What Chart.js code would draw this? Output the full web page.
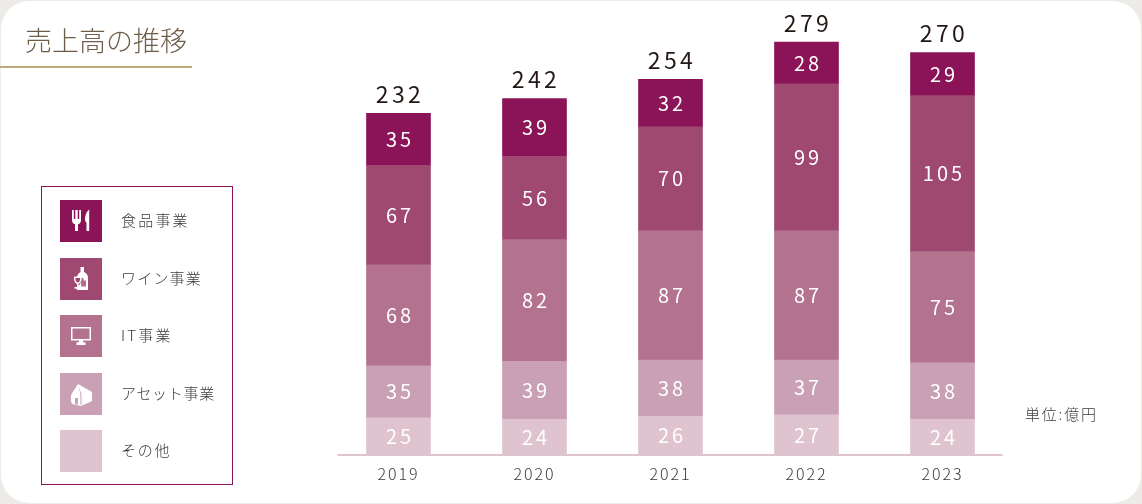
<!DOCTYPE html>
<html lang="ja">
<head>
<meta charset="utf-8">
<title>売上高の推移</title>
<script src="https://cdn.jsdelivr.net/npm/chart.js@4"></script>
<style>
html,body{margin:0;padding:0;width:1142px;height:504px;overflow:hidden;background:#ecebe7;}
body{position:relative;font-family:"Noto Sans CJK JP","Noto Sans",sans-serif;}
#card{position:absolute;left:1px;top:1px;width:1140px;height:502px;background:#fff;border-radius:28px;}
#chartBox{position:absolute;left:0;top:0;width:1142px;height:504px;}
#title{position:absolute;left:25px;top:20px;font-size:27px;line-height:40px;color:#6e5d48;font-weight:300;white-space:nowrap;}
#rule{position:absolute;left:0;top:66px;width:192px;height:2px;background:#bfa97a;}
#legend{position:absolute;left:41px;top:186px;width:190px;height:297px;border:1px solid #8b1458;}
.sw{position:absolute;left:18px;width:42px;height:42px;}
.sw svg{display:block;width:42px;height:42px;}
.lb{position:absolute;left:79px;margin-top:-1px;font-size:15px;line-height:42px;color:#3a3a3a;white-space:nowrap;font-weight:300;}
#unit{position:absolute;left:1025px;top:403px;font-size:15px;line-height:22px;letter-spacing:1.8px;color:#3a3a3a;white-space:nowrap;font-weight:300;}
</style>
</head>
<body>
<div id="card"></div>
<div id="chartBox"><canvas id="c" width="1142" height="504"></canvas></div>
<div id="title">売上高の推移</div>
<div id="rule"></div>
<div id="legend"></div>
<div id="unit">単位:億円</div>
<script>
const years = ["2019","2020","2021","2022","2023"];
const totals = [232,242,254,279,270];
const food = [35,39,32,28,29];
const wine = [67,56,70,99,105];
const it = [68,82,87,87,75];
const asset = [35,39,38,37,38];
const other = [25,24,26,27,24];
const legendNames = ["食品事業","ワイン事業","IT事業","アセット事業","その他"];
const legendColors = ["#8b1458","#9f4872","#b3738f","#c9a0b4","#dfc4cf"];
const legendTops = [13,71,128,186,243];
const legendSpacing = [2.2,1.2,2.2,0.7,1.8];
const icons = [
 '<path d="M12 10v10c0 2.500 1.300 3.800 3 4.300V31h3v-6.700c1.700-.5 3-1.800 3-4.300V10h-1.800v9h-1.500v-9h-2.400v9h-1.500v-9z" fill="#fff"/><path d="M26.500 31h2.700V9.500c-2.700 2-4.200 6-4.200 9.500 0 2 .5 3 1.500 3.600z" fill="#fff"/>',
 '<path d="M20.500 9h3.500v5c2.600 1.200 4 3 4 6v12H17v-3.500c2.600-1 4-3 4-6.500h-4v-2.500c0-2.500 1.500-4.500 3.500-5.500z" fill="#fff"/><path d="M21 20h2.500v2.500H26v6h-4.500c-.5 0-.5-4 -.5-8.500z" fill="#9f4872" opacity=".8"/><path d="M14 18.500h7.500c.4 4-1 6.800-3 7.400V29h2.500v1.800h-6.500V29H17v-3.100c-2-.6-3.400-3.400-3-7.400z" fill="#fff"/><path d="M15.400 20h4.700c.1 2.500-.8 4.500-2.300 4.500s-2.500-2-2.400-4.500z" fill="#9f4872"/>',
 '<path d="M11 12h20v13.500H23v1.800h2.500V30H16.500v-2.700H19v-1.800H11z" fill="#fff"/><rect x="12.500" y="13.500" width="17" height="10.500" fill="#b3738f"/>',
 '<path d="M18 11L32 19v9l-11 5-7-1.500c-2-.5-3-1.500-3-3.500v-6z" fill="#fff"/><path d="M18.300 13.500l3.200 7.500v11h-1V21.300z" fill="#c9a0b4"/><rect x="15" y="25" width="3" height="6.500" fill="#c9a0b4"/>',
 ''
];
const legendEl = document.getElementById('legend');
legendNames.forEach((name,i)=>{
  legendEl.insertAdjacentHTML('beforeend',
    '<div class="sw" style="top:'+legendTops[i]+'px;background:'+legendColors[i]+'"><svg viewBox="0 0 42 42">'+icons[i]+'</svg></div>'+
    '<div class="lb" style="top:'+legendTops[i]+'px;letter-spacing:'+legendSpacing[i]+'px">'+name+'</div>');
});

const FONT = '"Noto Sans CJK JP","Noto Sans",sans-serif';
const labelsPlugin = {
  id:'stackLabels',
  beforeDraw(chart){ chart.ctx.letterSpacing='1.9px'; },
  afterDatasetsDraw(chart){
    const ctx = chart.ctx;
    ctx.save();
    ctx.textAlign='center';
    ctx.textBaseline='middle';
    chart.data.datasets.forEach((ds,di)=>{
      const meta = chart.getDatasetMeta(di);
      meta.data.forEach((bar,i)=>{
        ctx.letterSpacing='3px';
        ctx.font='400 20px '+FONT;
        ctx.fillStyle='#fff';
        ctx.fillText(String(ds.data[i]), bar.x+1.5, (bar.y+bar.base)/2);
      });
    });
    const top = chart.getDatasetMeta(chart.data.datasets.length-1);
    top.data.forEach((bar,i)=>{
      ctx.letterSpacing='3.4px';
      ctx.font='400 23px '+FONT;
      ctx.fillStyle='#231815';
      ctx.fillText(String(totals[i]), bar.x+1.5, bar.y-19);
    });
    const y = chart.scales.y.getPixelForValue(0);
    ctx.fillStyle=legendColors[4];
    ctx.fillRect(chart.chartArea.left+7, y-1, chart.chartArea.width-15, 2);
    ctx.restore();
  }
};

new Chart(document.getElementById('c'),{
  type:'bar',
  data:{
    labels:years,
    datasets:[
      {label:legendNames[4],data:other,backgroundColor:legendColors[4]},
      {label:legendNames[3],data:asset,backgroundColor:legendColors[3]},
      {label:legendNames[2],data:it,backgroundColor:legendColors[2]},
      {label:legendNames[1],data:wine,backgroundColor:legendColors[1]},
      {label:legendNames[0],data:food,backgroundColor:legendColors[0]}
    ]
  },
  options:{
    responsive:false,
    animation:false,
    layout:{padding:{left:330.5,right:131.5,top:0,bottom:0}},
    plugins:{legend:{display:false},tooltip:{enabled:false}},
    datasets:{bar:{categoryPercentage:1,barThickness:64}},
    scales:{
      x:{
        stacked:true,
        grid:{display:false},
        border:{display:false},
        ticks:{color:'#3a3a3a',font:{family:FONT,size:16,weight:'300'},padding:1,maxRotation:0},
        afterFit(s){s.height=49;}
      },
      y:{stacked:true,display:false,min:0,max:306.4}
    }
  },
  plugins:[labelsPlugin]
});
</script>
</body>
</html>
